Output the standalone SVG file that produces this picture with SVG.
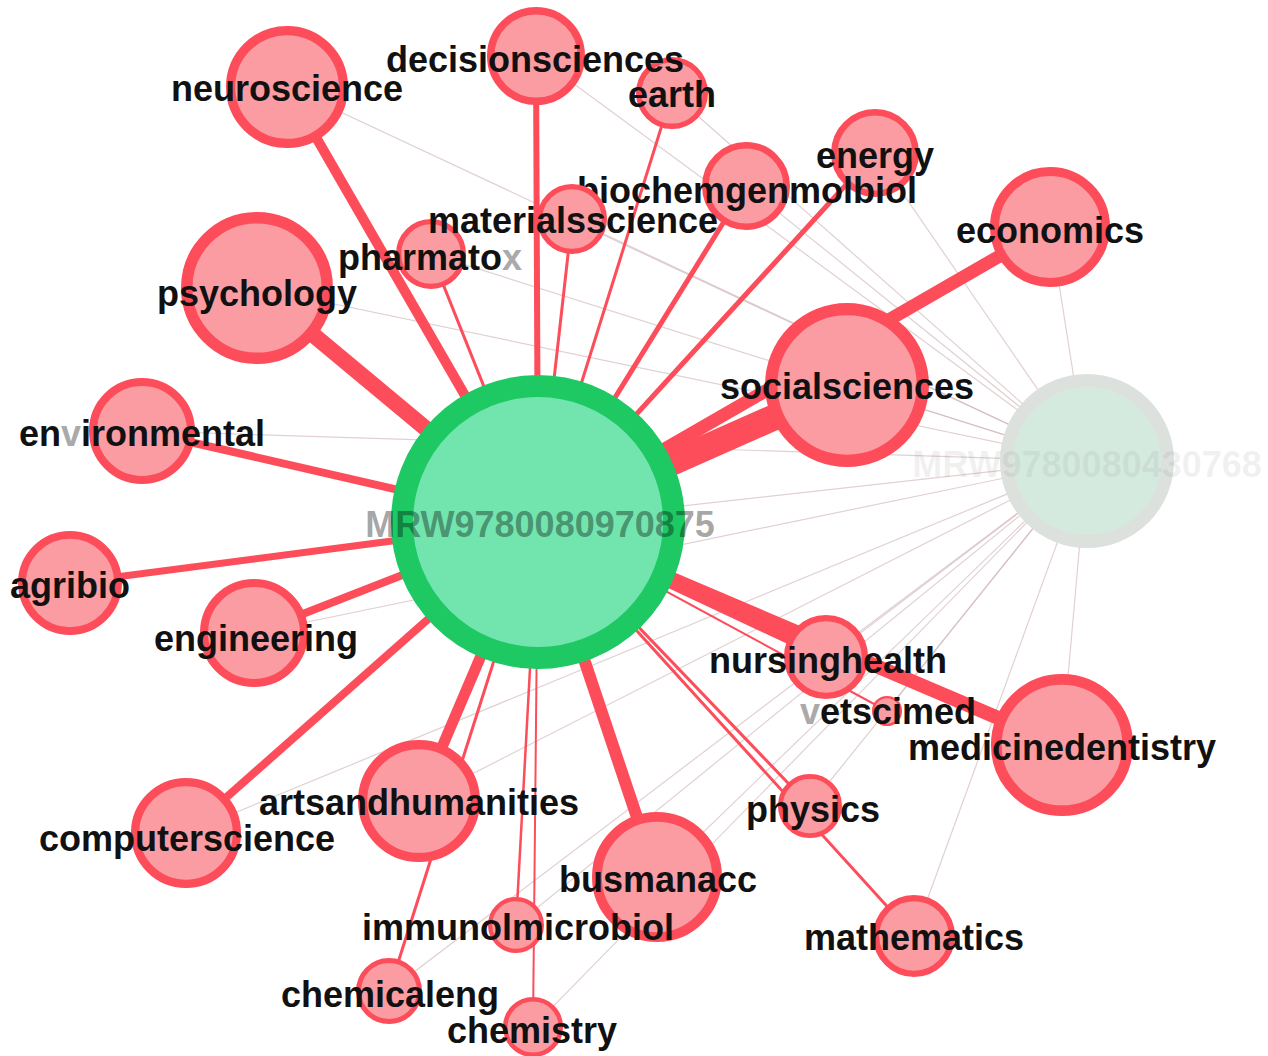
<svg xmlns="http://www.w3.org/2000/svg" width="1268" height="1056" viewBox="0 0 1268 1056">
<style>
.faint{stroke:#cdb0b4;stroke-width:1.2;stroke-opacity:0.6;fill:none}
.red{stroke:#fd4c5a;fill:none;stroke-linecap:butt}
.rn{fill:#fa9ca1;stroke:#fd4c5a}
.lbl{font-family:"Liberation Sans",Arial,sans-serif;font-weight:bold;font-size:36px;fill:#111;text-anchor:middle}
.gr{fill:#aaa}
</style>
<rect width="1268" height="1056" fill="#fff"/>
<g id="connectors">
<g id="faint-edges">
<line class="faint" x1="1087" y1="461" x2="287" y2="87"/>
<line class="faint" x1="1087" y1="461" x2="536" y2="56"/>
<line class="faint" x1="1087" y1="461" x2="672" y2="93"/>
<line class="faint" x1="1087" y1="461" x2="875" y2="153"/>
<line class="faint" x1="1087" y1="461" x2="746" y2="186"/>
<line class="faint" x1="1087" y1="461" x2="572" y2="219"/>
<line class="faint" x1="1087" y1="461" x2="431" y2="254"/>
<line class="faint" x1="1087" y1="461" x2="1050" y2="227"/>
<line class="faint" x1="1087" y1="461" x2="257" y2="288"/>
<line class="faint" x1="1087" y1="461" x2="847" y2="385"/>
<line class="faint" x1="1087" y1="461" x2="142" y2="431"/>
<line class="faint" x1="1087" y1="461" x2="254" y2="633"/>
<line class="faint" x1="1087" y1="461" x2="186" y2="833"/>
<line class="faint" x1="1087" y1="461" x2="419" y2="801"/>
<line class="faint" x1="1087" y1="461" x2="657" y2="877"/>
<line class="faint" x1="1087" y1="461" x2="516" y2="925"/>
<line class="faint" x1="1087" y1="461" x2="389" y2="991"/>
<line class="faint" x1="1087" y1="461" x2="533" y2="1027"/>
<line class="faint" x1="1087" y1="461" x2="826" y2="657"/>
<line class="faint" x1="1087" y1="461" x2="887" y2="711"/>
<line class="faint" x1="1087" y1="461" x2="1062" y2="745"/>
<line class="faint" x1="1087" y1="461" x2="810" y2="806"/>
<line class="faint" x1="1087" y1="461" x2="914" y2="936"/>
<line class="faint" x1="1087" y1="461" x2="538" y2="522"/>
</g>
<g id="red-edges">
<line class="red" x1="538" y1="522" x2="847" y2="385" stroke-width="26"/>
<line class="red" x1="538" y1="522" x2="1050" y2="227" stroke-width="13"/>
<line class="red" x1="538" y1="522" x2="257" y2="288" stroke-width="16"/>
<line class="red" x1="538" y1="522" x2="287" y2="87" stroke-width="10"/>
<line class="red" x1="538" y1="522" x2="536" y2="56" stroke-width="6"/>
<line class="red" x1="538" y1="522" x2="672" y2="93" stroke-width="3"/>
<line class="red" x1="538" y1="522" x2="572" y2="219" stroke-width="3"/>
<line class="red" x1="538" y1="522" x2="431" y2="254" stroke-width="3"/>
<line class="red" x1="538" y1="522" x2="746" y2="186" stroke-width="5"/>
<line class="red" x1="538" y1="522" x2="875" y2="153" stroke-width="5"/>
<line class="red" x1="538" y1="522" x2="142" y2="431" stroke-width="8"/>
<line class="red" x1="538" y1="522" x2="70" y2="583" stroke-width="7"/>
<line class="red" x1="538" y1="522" x2="254" y2="633" stroke-width="8"/>
<line class="red" x1="538" y1="522" x2="186" y2="833" stroke-width="8"/>
<line class="red" x1="538" y1="522" x2="419" y2="801" stroke-width="11"/>
<line class="red" x1="538" y1="522" x2="389" y2="991" stroke-width="3"/>
<line class="red" x1="538" y1="522" x2="516" y2="925" stroke-width="2.5"/>
<line class="red" x1="538" y1="522" x2="533" y2="1027" stroke-width="2"/>
<line class="red" x1="538" y1="522" x2="657" y2="877" stroke-width="12"/>
<line class="red" x1="538" y1="522" x2="1062" y2="745" stroke-width="14"/>
<line class="red" x1="538" y1="522" x2="826" y2="657" stroke-width="9"/>
<line class="red" x1="538" y1="522" x2="887" y2="711" stroke-width="2"/>
<line class="red" x1="538" y1="522" x2="810" y2="806" stroke-width="3"/>
<line class="red" x1="538" y1="522" x2="914" y2="936" stroke-width="3"/>
</g>
</g>
<g id="node-earth"><circle class="rn" cx="672" cy="93" r="33.3" stroke-width="5.4"/><text class="lbl" x="672" y="107">earth</text></g>
<g id="node-energy"><circle class="rn" cx="875" cy="153" r="40.7" stroke-width="6.6"/><text class="lbl" x="875" y="168">energy</text></g>
<g id="node-biochemgenmolbiol"><circle class="rn" cx="746" cy="186" r="40.7" stroke-width="6.6"/><text class="lbl" x="747" y="203">biochemgenmolbiol</text></g>
<g id="node-pharmatox"><circle class="rn" cx="431" cy="254" r="32.4" stroke-width="5.2"/><text class="lbl" x="430" y="270">pharmato<tspan class="gr">x</tspan></text></g>
<g id="node-materialsscience"><circle class="rn" cx="572" cy="219" r="32.4" stroke-width="5.2"/><text class="lbl" x="573" y="233">materialsscience</text></g>
<g id="node-decisionsciences"><circle class="rn" cx="536" cy="56" r="45.3" stroke-width="7.4"/><text class="lbl" x="535" y="72">decisionsciences</text></g>
<g id="node-neuroscience"><circle class="rn" cx="287" cy="87" r="56.4" stroke-width="9.2"/><text class="lbl" x="287" y="101">neuroscience</text></g>
<g id="node-psychology"><circle class="rn" cx="257" cy="288" r="70.3" stroke-width="11.4"/><text class="lbl" x="257" y="306">psychology</text></g>
<g id="node-economics"><circle class="rn" cx="1050" cy="227" r="55.5" stroke-width="9"/><text class="lbl" x="1050" y="243">economics</text></g>
<g id="node-socialsciences"><circle class="rn" cx="847" cy="385" r="75.8" stroke-width="12.3"/><text class="lbl" x="847" y="399">socialsciences</text></g>
<g id="node-environmental"><circle class="rn" cx="142" cy="431" r="49" stroke-width="8"/><text class="lbl" x="142" y="446">en<tspan class="gr">v</tspan>ironmental</text></g>
<g id="node-agribio"><circle class="rn" cx="70" cy="583" r="48.1" stroke-width="7.8"/><text class="lbl" x="70" y="598">agribio</text></g>
<g id="node-engineering"><circle class="rn" cx="254" cy="633" r="50" stroke-width="8.1"/><text class="lbl" x="256" y="651">engineering</text></g>
<g id="node-computerscience"><circle class="rn" cx="186" cy="833" r="50.9" stroke-width="8.3"/><text class="lbl" x="187" y="851">computerscience</text></g>
<g id="node-artsandhumanities"><circle class="rn" cx="419" cy="801" r="56.4" stroke-width="9.2"/><text class="lbl" x="419" y="815">artsandhumanities</text></g>
<g id="node-busmanacc"><circle class="rn" cx="657" cy="877" r="60.1" stroke-width="9.8"/><text class="lbl" x="658" y="892">busmanacc</text></g>
<g id="node-immunolmicrobiol"><circle class="rn" cx="516" cy="925" r="25.9" stroke-width="4.2"/><text class="lbl" x="518" y="940">immunolmicrobiol</text></g>
<g id="node-chemicaleng"><circle class="rn" cx="389" cy="991" r="30.5" stroke-width="5"/><text class="lbl" x="390" y="1007">chemicaleng</text></g>
<g id="node-chemistry"><circle class="rn" cx="533" cy="1027" r="27.8" stroke-width="4.5"/><text class="lbl" x="532" y="1043">chemistry</text></g>
<g id="node-nursinghealth"><circle class="rn" cx="826" cy="657" r="38.9" stroke-width="6.3"/><text class="lbl" x="828" y="673">nursinghealth</text></g>
<g id="node-vetscimed"><circle class="rn" cx="887" cy="711" r="13.9" stroke-width="2.3"/><text class="lbl" x="888" y="724"><tspan class="gr">v</tspan>etscimed</text></g>
<g id="node-medicinedentistry"><circle class="rn" cx="1062" cy="745" r="65.7" stroke-width="10.7"/><text class="lbl" x="1062" y="760">medicinedentistry</text></g>
<g id="node-physics"><circle class="rn" cx="810" cy="806" r="29.6" stroke-width="4.8"/><text class="lbl" x="813" y="822">physics</text></g>
<g id="node-mathematics"><circle class="rn" cx="914" cy="936" r="37.9" stroke-width="6.2"/><text class="lbl" x="914" y="950">mathematics</text></g>
<g id="node-MRW9780080970875"><circle cx="538" cy="522" r="136" stroke-width="22" fill="#72e4ae" stroke="#1ec964"/><text class="lbl" x="540" y="537" style="fill:#000;fill-opacity:0.37">MRW9780080970875</text></g>
<g id="node-MRW9780080430768"><circle cx="1087" cy="461" r="80.5" stroke-width="13" fill="#d5eadf" stroke="#dce1dd"/><text class="lbl" x="1087" y="477" style="fill:#888;fill-opacity:0.12">MRW9780080430768</text></g>
</svg>
